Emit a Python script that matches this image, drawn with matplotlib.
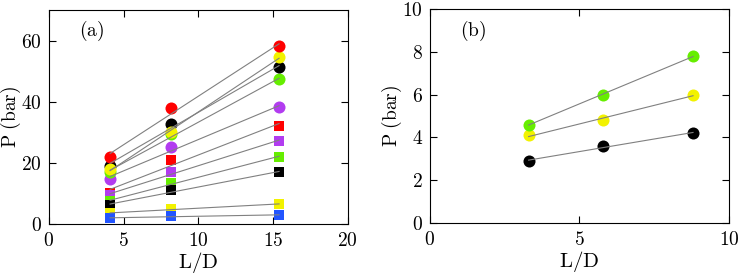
import matplotlib
matplotlib.use("Agg")
import matplotlib.pyplot as plt
import numpy as np
from matplotlib.ticker import FuncFormatter

plt.rcParams['mathtext.fontset'] = 'cm'
plt.rcParams['font.family'] = 'serif'
plt.rcParams['font.serif'] = ['DejaVu Serif']

# panel (a)
x_a = [4.1, 8.2, 15.4]
circ_red = [22.0, 37.8, 58.3]
circ_black = [19.0, 32.8, 51.3]
circ_yellow = [18.0, 30.0, 54.5]
circ_green = [17.0, 29.5, 47.3]
circ_purple = [14.7, 25.3, 38.2]
sq_red = [10.2, 21.0, 32.2]
sq_purple = [9.5, 17.0, 27.2]
sq_green = [7.5, 13.5, 22.0]
sq_black = [6.2, 11.0, 17.0]
sq_yellow = [3.5, 5.0, 6.5]
sq_blue = [2.0, 2.5, 3.0]

# panel (b)
x_b = [3.3, 5.8, 8.8]
b_green = [4.6, 6.0, 7.8]
b_yellow = [4.1, 4.8, 6.0]
b_black = [2.9, 3.6, 4.2]

RED, BLACK, YELLOW, GREEN = "#ff0000", "#000000", "#f2f200", "#66ee00"
PURPLE, BLUE = "#b23cf0", "#2255ff"

# drawing order (later ones on top)
series_a = [
    (sq_red, RED, 's'), (sq_purple, PURPLE, 's'), (sq_green, GREEN, 's'),
    (sq_black, BLACK, 's'), (sq_yellow, YELLOW, 's'), (sq_blue, BLUE, 's'),
    (circ_purple, PURPLE, 'o'), (circ_green, GREEN, 'o'), (circ_black, BLACK, 'o'),
    (circ_yellow, YELLOW, 'o'), (circ_red, RED, 'o'),
]
series_b = [(b_black, BLACK, 'o'), (b_yellow, YELLOW, 'o'), (b_green, GREEN, 'o')]

fmt = FuncFormatter(lambda v, pos: r'$%g$' % v)


def draw(ax, x, series):
    x = np.array(x)
    for y, c, m in series:
        # linear fit line over the data range
        k, b = np.polyfit(x, y, 1)
        xs = np.array([x[0], x[-1]])
        ax.plot(xs, k * xs + b, color="#808080", lw=0.8, zorder=3)
        ax.scatter(x, y, s=75 if m == 'o' else 45, c=c, marker=m, linewidths=0, zorder=2)
    ax.tick_params(direction='in', top=True, right=True, length=5, labelsize=14)
    ax.tick_params(axis='x', pad=6)
    ax.tick_params(axis='y', pad=5)
    ax.xaxis.set_major_formatter(fmt)
    ax.yaxis.set_major_formatter(fmt)
    ax.set_xlabel(r'$\mathrm{L/D}$', fontsize=15, labelpad=0)
    ax.set_ylabel(r'$\mathrm{P\ (bar)}$', fontsize=14, labelpad=-1)


fig = plt.figure(figsize=(7.4, 2.76), dpi=100)
ax1 = fig.add_axes([0.066, 0.188, 0.404, 0.776])
ax2 = fig.add_axes([0.581, 0.192, 0.404, 0.775])

draw(ax1, x_a, series_a)
ax1.set_xlim(0, 20)
ax1.set_ylim(0, 70)
ax1.set_xticks([0, 5, 10, 15, 20])
ax1.set_yticks([0, 20, 40, 60])
ax1.text(2.0, 63, r'$\mathrm{(a)}$', fontsize=14, va='center')

draw(ax2, x_b, series_b)
ax2.set_xlim(0, 10)
ax2.set_ylim(0, 10)
ax2.set_xticks([0, 5, 10])
ax2.set_yticks([0, 2, 4, 6, 8, 10])
ax2.text(1.0, 9.0, r'$\mathrm{(b)}$', fontsize=14, va='center')

fig.savefig("out.png", dpi=100)
